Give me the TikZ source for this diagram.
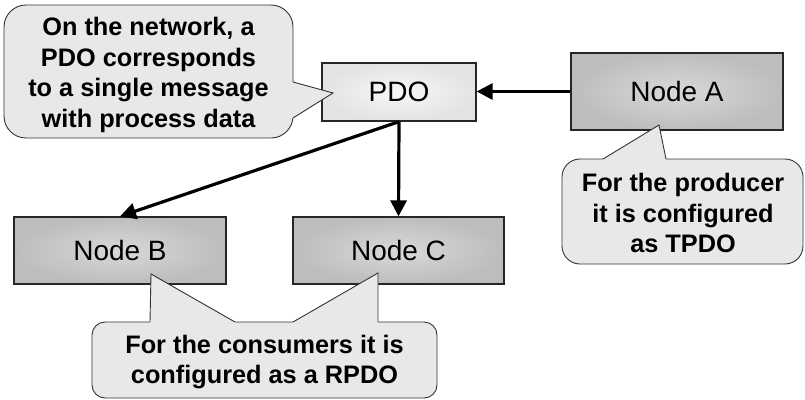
\documentclass[tikz,border=0pt]{standalone}
\usepackage{fontspec}
\setmainfont{Liberation Sans}
\usetikzlibrary{arrows.meta}

\begin{document}
\begin{tikzpicture}[x=1pt,y=-1pt,
  box/.style={draw=black!85, line width=1.3pt, inner sep=0pt,
    font=\fontsize{28}{32}\selectfont},
  station/.style={box, inner color=black!15, outer color=black!26},
  pdobox/.style={box, inner color=black!3, outer color=black!11},
  flow/.style={line width=3.2pt, -{Triangle[length=16pt,width=16pt]}},
  bubble/.style={fill=black!9, draw=black!80, line width=0.9pt},
  bubblefill/.style={fill=black!9},
  bubbleline/.style={draw=black!80, line width=0.9pt, line join=miter},
  note/.style={align=center, inner sep=0pt,
    font=\fontsize{25.3}{30.5}\selectfont\bfseries}
]
\useasboundingbox (0,0) rectangle (805,399);

% boxes
\node[pdobox,  minimum width=154pt, minimum height=58pt] (pdo) at (399,92) {PDO};
\node[station, minimum width=212pt, minimum height=77pt] (nodeA) at (677,91.5) {Node A};
\node[station, minimum width=212pt, minimum height=67pt] (nodeB) at (120,250.5) {Node B};
\node[station, minimum width=211pt, minimum height=67pt] (nodeC) at (398.5,250.5) {Node C};

% message flow
\draw[flow] (nodeA.west) -- (nodeA.west -| pdo.east);
\draw[flow] (pdo.south) -- (nodeC.north);
\draw[flow] (pdo.south) -- (nodeB.north);

% callout: network view
\path[bubble, rounded corners=22pt] (4,5) rectangle (293,138);
\fill[bubblefill] (288,82) -- (293,82) -- (333,93) -- (293,118) -- (288,118) -- cycle;
\draw[bubbleline] (293,82) -- (333,93) -- (293,118);
\node[note] (noteNet) at (148.5,75)
  {On the network, a\\PDO corresponds\\to a single message\\with process data};

% callout: producer
\path[bubble, rounded corners=18pt] (562,159) rectangle (803,264);
\fill[bubblefill] (603,163) -- (603,159) -- (659,125) -- (666,159) -- (666,163) -- cycle;
\draw[bubbleline] (603,159) -- (659,125) -- (666,159);
\node[note] (noteProd) at (683,213)
  {For the producer\\it is configured\\as TPDO};

% callout: consumers
\path[bubble, rounded corners=13pt] (92,322) rectangle (437,398);
\fill[bubblefill] (150,326) -- (150,322) -- (151,274) -- (235,322) -- (235,326) -- cycle;
\draw[bubbleline] (150,322) -- (151,274) -- (235,322);
\fill[bubblefill] (293,326) -- (293,322) -- (378,273) -- (378,322) -- (378,326) -- cycle;
\draw[bubbleline] (293,322) -- (378,273) -- (378,322);
\node[note] (noteCons) at (264.5,362)
  {For the consumers it is\\configured as a RPDO};
\end{tikzpicture}
\end{document}
